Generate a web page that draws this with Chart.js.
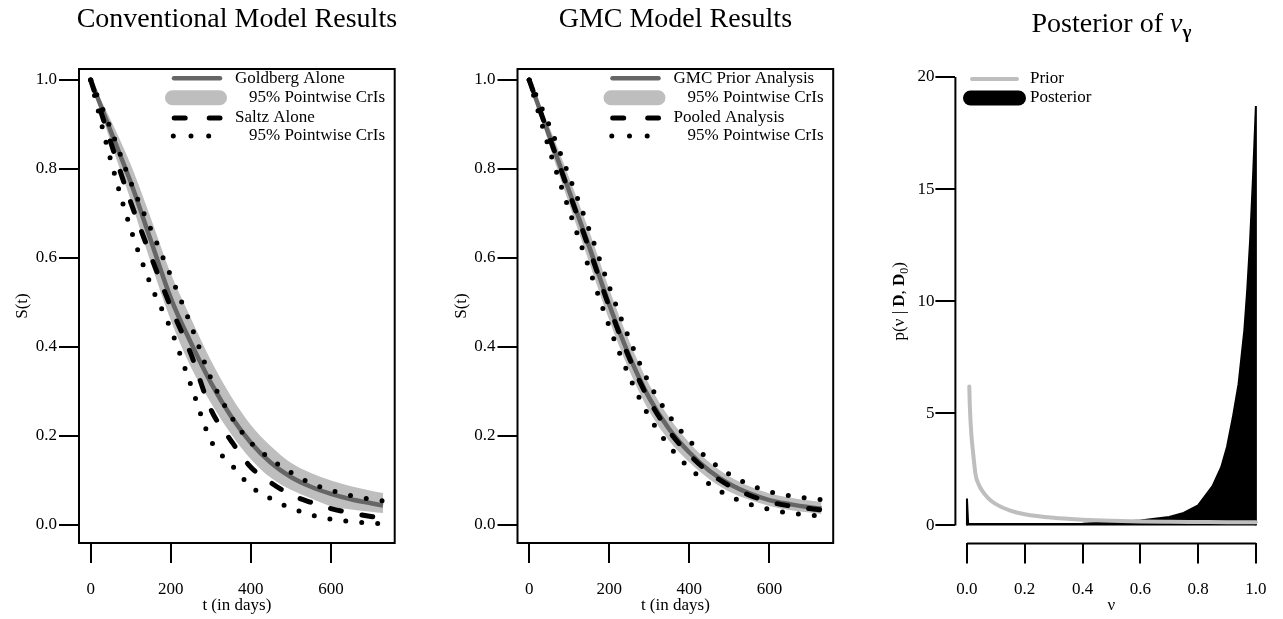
<!DOCTYPE html>
<html>
<head>
<meta charset="utf-8">
<script src="https://cdn.jsdelivr.net/npm/chart.js@4.4.1/dist/chart.umd.min.js"></script>
<style>
  body { margin: 0; background: #fff; width: 1283px; height: 619px; overflow: hidden; }
  canvas { position: absolute; left: 0; top: 0; }
</style>
</head>
<body>
<canvas id="conv" width="1283" height="619"></canvas>
<canvas id="gmc" width="1283" height="619"></canvas>
<canvas id="post" width="1283" height="619"></canvas>
<script>
// Survival curves (t in days)
const days = [0, 50, 100, 150, 200, 250, 300, 350, 400, 450, 500, 550, 600, 650, 700, 730];

const goldbergMed = [1.0, 0.885, 0.77, 0.64, 0.51, 0.41, 0.32, 0.245, 0.185, 0.14, 0.108, 0.086, 0.07, 0.058, 0.049, 0.044];
const goldbergLo  = [1.0, 0.86, 0.73, 0.59, 0.46, 0.355, 0.275, 0.205, 0.148, 0.106, 0.079, 0.06, 0.042, 0.035, 0.03, 0.027];
const goldbergHi  = [1.0, 0.91, 0.81, 0.69, 0.565, 0.465, 0.37, 0.29, 0.225, 0.177, 0.14, 0.117, 0.1, 0.087, 0.077, 0.072];
const saltzMed    = [1.0, 0.86, 0.725, 0.605, 0.49, 0.385, 0.26, 0.19, 0.13, 0.095, 0.068, 0.051, 0.037, 0.027, 0.019, 0.015];
const saltzLo     = [1.0, 0.82, 0.665, 0.54, 0.44, 0.315, 0.19, 0.137, 0.087, 0.059, 0.038, 0.023, 0.013, 0.008, 0.004, 0.003];
const saltzHi     = [1.0, 0.89, 0.77, 0.665, 0.56, 0.45, 0.33, 0.245, 0.185, 0.148, 0.118, 0.094, 0.078, 0.066, 0.058, 0.054];

const gmcMed    = [1.0, 0.875, 0.75, 0.625, 0.495, 0.38, 0.285, 0.215, 0.163, 0.122, 0.092, 0.071, 0.056, 0.047, 0.04, 0.037];
const gmcLo     = [1.0, 0.855, 0.72, 0.59, 0.46, 0.347, 0.255, 0.189, 0.141, 0.103, 0.075, 0.057, 0.043, 0.034, 0.028, 0.025];
const gmcHi     = [1.0, 0.895, 0.78, 0.66, 0.53, 0.413, 0.315, 0.241, 0.185, 0.141, 0.109, 0.087, 0.071, 0.062, 0.055, 0.052];
const pooledMed = [1.0, 0.873, 0.746, 0.62, 0.49, 0.375, 0.28, 0.21, 0.158, 0.118, 0.088, 0.067, 0.052, 0.043, 0.037, 0.034];
const pooledLo  = [1.0, 0.845, 0.707, 0.576, 0.446, 0.334, 0.243, 0.177, 0.128, 0.092, 0.065, 0.047, 0.035, 0.027, 0.022, 0.02];
const pooledHi  = [1.0, 0.898, 0.783, 0.663, 0.535, 0.418, 0.318, 0.245, 0.19, 0.146, 0.114, 0.091, 0.075, 0.066, 0.06, 0.057];

// Posterior of nu
const priorNu   = [0.008, 0.01, 0.015, 0.02, 0.03, 0.04, 0.05, 0.075, 0.1, 0.15, 0.2, 0.3, 0.4, 0.5, 0.6, 0.7, 0.8, 0.9, 1.0];
const priorDens = [6.2, 5.3, 4.1, 3.4, 2.25, 1.85, 1.6, 1.2, 0.95, 0.66, 0.5, 0.34, 0.26, 0.21, 0.18, 0.165, 0.155, 0.145, 0.14];
const postNu    = [0, 0, 0.004, 0.05, 0.1, 0.2, 0.3, 0.4, 0.5, 0.6, 0.65, 0.7, 0.75, 0.8, 0.85, 0.88, 0.9, 0.92, 0.94, 0.96, 0.97, 0.98, 0.99, 1.0, 1.0];
const postDens  = [0, 1.2, 0.08, 0.07, 0.06, 0.06, 0.07, 0.08, 0.14, 0.22, 0.3, 0.38, 0.56, 0.9, 1.75, 2.6, 3.5, 4.8, 6.3, 8.7, 10.5, 12.7, 15.5, 18.7, 0];

// Tick labels
const dayTicks  = [0, 200, 400, 600];
const survTicks = [0, 0.2, 0.4, 0.6, 0.8, 1.0];
const nuTicks   = [0, 0.2, 0.4, 0.6, 0.8, 1.0];
const densTicks = [0, 5, 10, 15, 20];

const serif = "'Liberation Serif', 'Times New Roman', serif";
const lineGray = '#666666';
const bandGray = '#bebebe';

function pts(xs, ys) {
    return xs.map((x, i) => ({ x: x, y: ys[i] }));
}

function axis(min, max, tickVals, fmt, pad, fix) {
    return {
        type: 'linear',
        min: min,
        max: max,
        afterBuildTicks: s => { s.ticks = tickVals.map(v => ({ value: v })); },
        afterFit: fix,
        border: { display: false },
        grid: { drawOnChartArea: false, drawTicks: true, tickLength: 20, lineWidth: 2, color: '#000' },
        ticks: {
            color: '#000', padding: pad, autoSkip: false, maxRotation: 0,
            font: { family: serif, size: 17 },
            callback: v => fmt(v)
        }
    };
}

function options(area, xs, ys) {
    return {
        responsive: false,
        animation: false,
        devicePixelRatio: 1,
        events: [],
        layout: { padding: { left: area.left - 60, top: area.top, right: 1283 - area.right, bottom: 619 - area.bottom - 60 } },
        plugins: { legend: { display: false }, title: { display: false }, tooltip: { enabled: false } },
        elements: { point: { radius: 0 }, line: { cubicInterpolationMode: 'monotone' } },
        scales: { x: xs, y: ys }
    };
}

const fixW = s => { s.width = 60; };
const fixH = s => { s.height = 60; };

function seg(ctx, x0, x1, y, color, width, dash, cap) {
    ctx.save();
    ctx.beginPath();
    ctx.strokeStyle = color;
    ctx.lineWidth = width;
    ctx.setLineDash(dash);
    ctx.lineCap = cap;
    ctx.moveTo(x0, y);
    ctx.lineTo(x1, y);
    ctx.stroke();
    ctx.restore();
}

function label(ctx, str, x, y, font, align, baseline) {
    ctx.save();
    ctx.fillStyle = '#000';
    ctx.font = font;
    ctx.textAlign = align;
    ctx.textBaseline = baseline;
    ctx.fillText(str, x, y);
    ctx.restore();
}

// pieces: [text, font, baseline shift]; drawn centred on x
function richText(ctx, pieces, x, y) {
    ctx.save();
    ctx.fillStyle = '#000';
    ctx.textBaseline = 'alphabetic';
    ctx.textAlign = 'left';
    let total = 0;
    pieces.forEach(p => { ctx.font = p[1]; total += ctx.measureText(p[0]).width; });
    let cx = x - total / 2;
    pieces.forEach(p => {
        ctx.font = p[1];
        ctx.fillText(p[0], cx, y + p[2]);
        cx += ctx.measureText(p[0]).width;
    });
    ctx.restore();
}

function survPanel(chart, title, names) {
    const ctx = chart.ctx;
    const a = chart.chartArea;
    const cx = (a.left + a.right) / 2;
    ctx.save();
    ctx.lineWidth = 2;
    ctx.strokeStyle = '#000';
    ctx.strokeRect(a.left, a.top, a.right - a.left, a.bottom - a.top);
    ctx.restore();

    label(ctx, title, cx, 27, '28px ' + serif, 'center', 'alphabetic');
    label(ctx, 't (in days)', cx, 610, '17px ' + serif, 'center', 'alphabetic');

    ctx.save();
    ctx.translate(a.left - 52, (a.top + a.bottom) / 2);
    ctx.rotate(-Math.PI / 2);
    label(ctx, 'S(t)', 0, 0, '17px ' + serif, 'center', 'alphabetic');
    ctx.restore();

    // legend
    const L = a.left, T = a.top;
    seg(ctx, L + 95, L + 141, T + 9.3, lineGray, 4.5, [], 'round');
    seg(ctx, L + 93.5, L + 140.5, T + 28.7, bandGray, 15, [], 'round');
    seg(ctx, L + 95.2, L + 141, T + 49, '#000', 5, [11, 24], 'round');
    seg(ctx, L + 94.3, L + 130.5, T + 67, '#000', 5, [0, 17.7], 'round');
    const f = '17px ' + serif;
    label(ctx, names[0], L + 156, T + 9.3, f, 'left', 'middle');
    label(ctx, '95% Pointwise CrIs', L + 170, T + 28.7, f, 'left', 'middle');
    label(ctx, names[1], L + 156, T + 49, f, 'left', 'middle');
    label(ctx, '95% Pointwise CrIs', L + 170, T + 67, f, 'left', 'middle');
}

function survData(lo, hi, med, other, otherLo, otherHi) {
    return {
        datasets: [
            { data: pts(days, lo), fill: '+1', backgroundColor: bandGray, borderColor: 'transparent', borderWidth: 0, order: 6 },
            { data: pts(days, hi), fill: false, borderColor: 'transparent', borderWidth: 0, order: 5 },
            { data: pts(days, med), fill: false, borderColor: lineGray, borderWidth: 4.5, order: 4 },
            { data: pts(days, other), fill: false, borderColor: '#000', borderWidth: 5, borderDash: [11, 21], borderCapStyle: 'round', order: 3 },
            { data: pts(days, otherHi), fill: false, borderColor: '#000', borderWidth: 5, borderDash: [0, 16], borderCapStyle: 'round', order: 2 },
            { data: pts(days, otherLo), fill: false, borderColor: '#000', borderWidth: 5, borderDash: [0, 16], borderCapStyle: 'round', order: 1 }
        ]
    };
}

const fmt1 = v => v.toFixed(1);
const fmt0 = v => String(v);

new Chart(document.getElementById('conv'), {
    type: 'line',
    data: survData(goldbergLo, goldbergHi, goldbergMed, saltzMed, saltzLo, saltzHi),
    options: options({ left: 79, top: 69, right: 394.7, bottom: 543 },
        axis(-29.2, 759.2, dayTicks, fmt0, 16, fixH),
        axis(-0.0404, 1.0247, survTicks, fmt1, 2, fixW)),
    plugins: [{ id: 'convDecor', afterDraw: c => survPanel(c, 'Conventional Model Results', ['Goldberg Alone', 'Saltz Alone']) }]
});

new Chart(document.getElementById('gmc'), {
    type: 'line',
    data: survData(gmcLo, gmcHi, gmcMed, pooledMed, pooledLo, pooledHi),
    options: options({ left: 517.5, top: 69, right: 833.2, bottom: 543 },
        axis(-29.2, 759.2, dayTicks, fmt0, 16, fixH),
        axis(-0.0404, 1.0247, survTicks, fmt1, 2, fixW)),
    plugins: [{ id: 'gmcDecor', afterDraw: c => survPanel(c, 'GMC Model Results', ['GMC Prior Analysis', 'Pooled Analysis']) }]
});

new Chart(document.getElementById('post'), {
    type: 'line',
    data: {
        datasets: [
            { data: pts(postNu, postDens), fill: 'origin', backgroundColor: '#000', borderColor: '#000', borderWidth: 2, tension: 0, cubicInterpolationMode: 'default', order: 2 },
            { data: pts(priorNu, priorDens), fill: false, borderColor: bandGray, borderWidth: 4, borderCapStyle: 'round', order: 1 }
        ]
    },
    options: options({ left: 955.4, top: 59, right: 1269.6, bottom: 543.4 },
        axis(-0.04, 1.04, nuTicks, fmt1, 16, fixH),
        axis(-0.8, 20.8, densTicks, fmt0, 1, fixW)),
    plugins: [{
        id: 'postDecor',
        afterDraw: c => {
            const ctx = c.ctx;
            const a = c.chartArea;
            const xs = c.scales.x, ys = c.scales.y;
            const cx = (a.left + a.right) / 2;
            // axis lines span first to last tick
            ctx.save();
            ctx.lineWidth = 2;
            ctx.strokeStyle = '#000';
            ctx.beginPath();
            ctx.moveTo(a.left, ys.getPixelForValue(densTicks[0]));
            ctx.lineTo(a.left, ys.getPixelForValue(densTicks[densTicks.length - 1]));
            ctx.moveTo(xs.getPixelForValue(nuTicks[0]), a.bottom);
            ctx.lineTo(xs.getPixelForValue(nuTicks[nuTicks.length - 1]), a.bottom);
            ctx.stroke();
            ctx.restore();

            richText(ctx, [
                ['Posterior of ', '28px ' + serif, 0],
                ['ν', 'italic 28px ' + serif, 0],
                ['γ', 'bold 19px ' + serif, 6]
            ], cx, 32);
            label(ctx, 'ν', cx, 610, '17px ' + serif, 'center', 'alphabetic');

            ctx.save();
            ctx.translate(904, (a.top + a.bottom) / 2);
            ctx.rotate(-Math.PI / 2);
            richText(ctx, [
                ['p(ν | ', '17px ' + serif, 0],
                ['D', 'bold 17px ' + serif, 0],
                [', ', '17px ' + serif, 0],
                ['D', 'bold 17px ' + serif, 0],
                ['0', '12px ' + serif, 4],
                [')', '17px ' + serif, 0]
            ], 0, 0);
            ctx.restore();

            // legend
            seg(ctx, 972, 1017, 79, bandGray, 4, [], 'round');
            seg(ctx, 970.5, 1018.5, 98, '#000', 15, [], 'round');
            label(ctx, 'Prior', 1030, 79, '17px ' + serif, 'left', 'middle');
            label(ctx, 'Posterior', 1030, 98, '17px ' + serif, 'left', 'middle');
        }
    }]
});
</script>
</body>
</html>
